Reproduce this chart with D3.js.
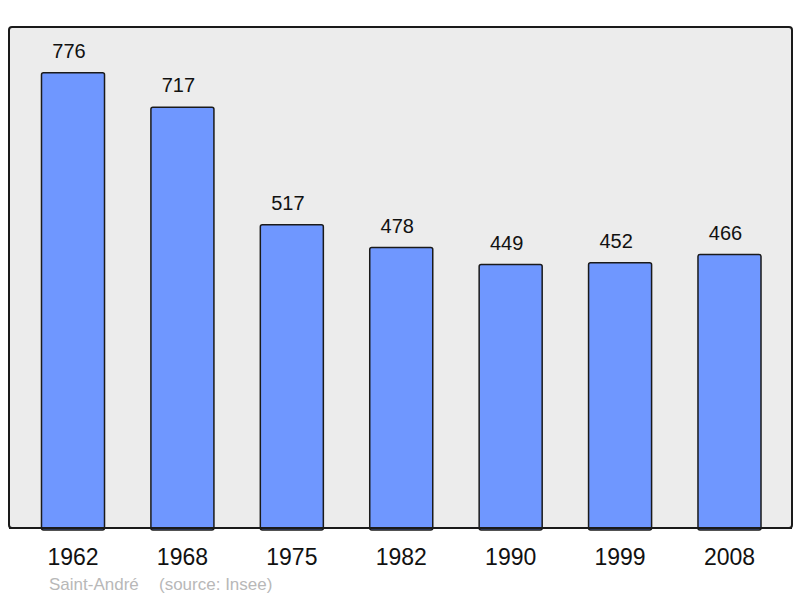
<!DOCTYPE html>
<html><head><meta charset="utf-8">
<script src="https://cdn.jsdelivr.net/npm/d3@7"></script>
<style>body{margin:0;background:#fff}svg{display:block}</style>
</head><body>
<svg id="c" width="800" height="598"></svg>
<script>
const years = ["1962","1968","1975","1982","1990","1999","2008"];
const population = [776,717,517,478,449,452,466];
const commune = "Saint-André";
const source = "(source: Insee)";

const svg = d3.select("#c");
const font = "'Liberation Sans', Arial, sans-serif";

svg.append("rect").attr("x",9).attr("y",27).attr("width",783).attr("height",501)
  .attr("rx",3).attr("fill","#ececec").attr("stroke","#1a1a1a").attr("stroke-width",2);

const x = d3.scaleBand().domain(years).range([18.3, 784.2]).paddingInner(0.424).paddingOuter(0.212);
const y = d3.scaleLinear().domain([0, 854]).range([528, 27]);

const data = years.map((yr,i)=>({yr, v: population[i]}));

svg.selectAll("rect.bar").data(data).enter().append("rect").attr("class","bar")
  .attr("x", d=>x(d.yr)).attr("y", d=>y(d.v))
  .attr("width", x.bandwidth()).attr("height", d=>528 - y(d.v) + 2)
  .attr("rx",2).attr("fill","#6f97ff").attr("stroke","#1a1a1a").attr("stroke-width",1.5);

svg.append("line").attr("x1",9).attr("x2",792).attr("y1",528).attr("y2",528)
  .attr("stroke","#1a1a1a").attr("stroke-width",2);

svg.selectAll("text.val").data(data).enter().append("text").attr("class","val")
  .attr("x", d=>x(d.yr)+x.bandwidth()/2-4).attr("y", d=>y(d.v)-15)
  .attr("text-anchor","middle").attr("font-family",font).attr("font-size",20)
  .attr("fill","#111").text(d=>d.v);

const xAxis = d3.axisBottom(x).tickSize(0).tickPadding(0);
const ax = svg.append("g").attr("transform","translate(0,565)").call(xAxis);
ax.select(".domain").remove();
ax.selectAll("text").attr("font-family",font).attr("font-size",23).attr("fill","#111").attr("dy","0");

svg.append("text").attr("x",49).attr("y",590).attr("font-family",font).attr("font-size",17)
  .attr("fill","#b8b8b8").text(commune);
svg.append("text").attr("x",159).attr("y",590).attr("font-family",font).attr("font-size",17)
  .attr("fill","#b8b8b8").text(source);
</script>
</body></html>
